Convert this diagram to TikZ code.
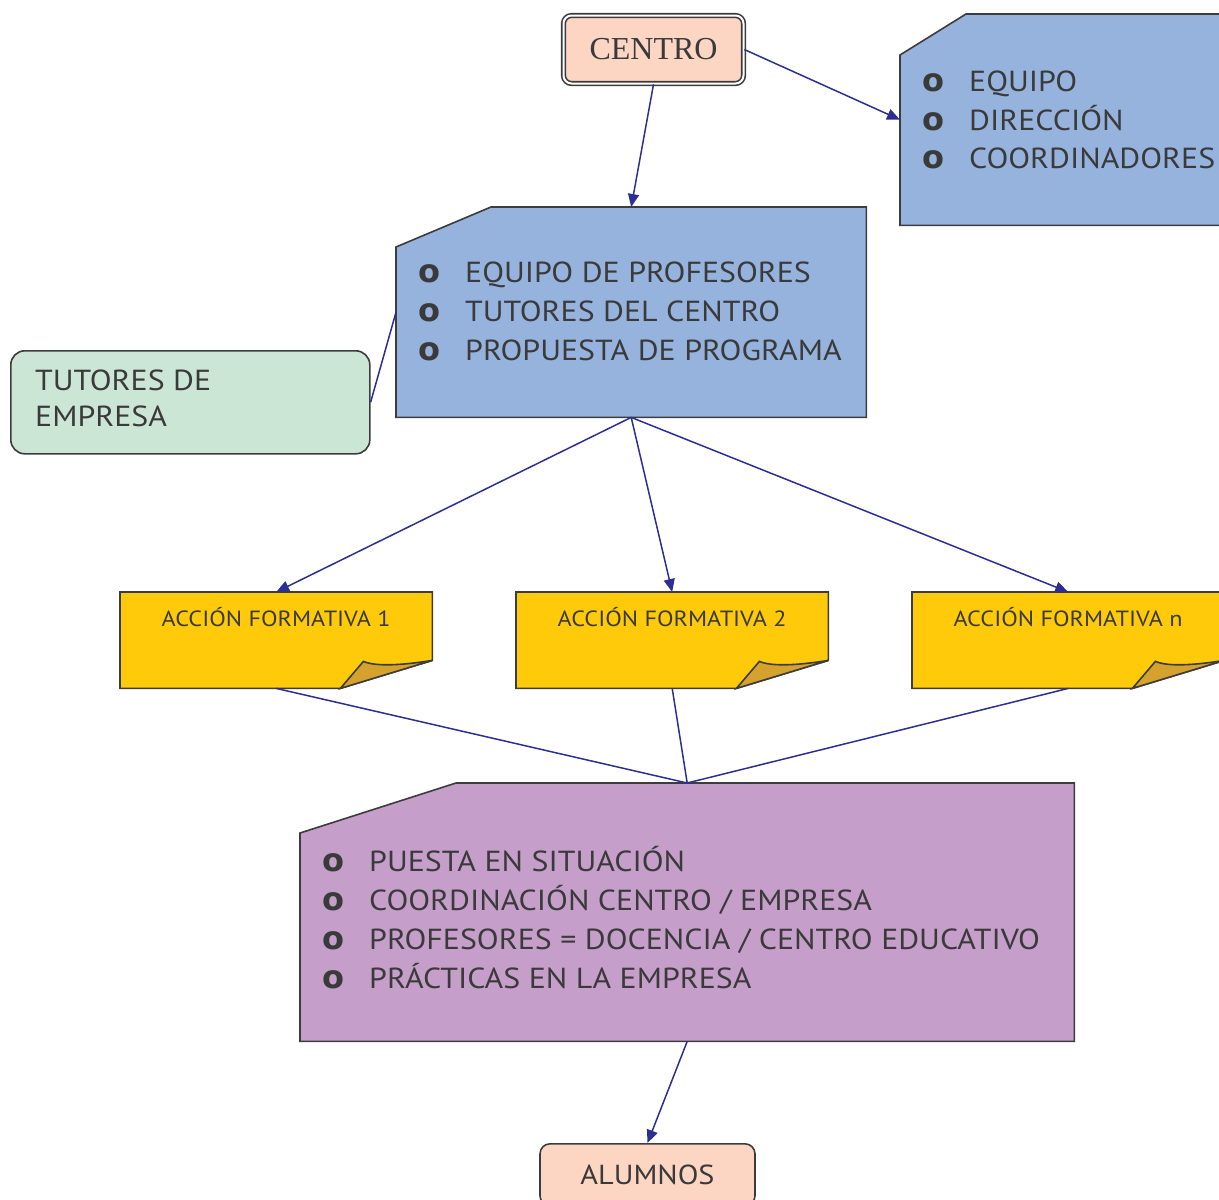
\documentclass[tikz,border=0pt]{standalone}
\usepackage{fontspec}
\setmainfont{PT Sans}[FakeStretch=1.1]
\newfontfamily\centrofont{Liberation Serif}
\newfontfamily\balafont{DejaVu Sans}
\usetikzlibrary{positioning, arrows.meta}

\definecolor{salmon}{HTML}{FCD5C3}
\definecolor{azul}{HTML}{95B3DD}
\definecolor{verde}{HTML}{CCE6D5}
\definecolor{amarillo}{HTML}{FFCA0A}
\definecolor{dorado}{HTML}{D5A22E}
\definecolor{malva}{HTML}{C59FCA}
\definecolor{borde}{HTML}{3C3C3C}
\definecolor{texto}{HTML}{3A3A3A}
\definecolor{azulosc}{HTML}{2B2F91}

\newcommand{\bala}{\makebox[47pt][l]{\balafont\bfseries\fontsize{32}{32}\selectfont o}}

\begin{document}
\begin{tikzpicture}[x=1pt,y=-1pt,
    every node/.style={inner sep=0pt, text=texto},
    contorno/.style={draw=borde, line width=1.6pt},
    lista/.style={align=left, anchor=north west, font=\fontsize{29}{39}\selectfont},
    nota/.style={anchor=north west, minimum width=312, minimum height=96},
    rotulo/.style={anchor=base, font=\fontsize{22}{24}\selectfont},
    conector/.style={draw=azulosc, line width=1.5pt},
    flecha/.style={conector, -{Triangle[length=13pt,width=11pt]}}]

  \useasboundingbox (0,0) rectangle (1219,1200);

  % cajas
  \node[contorno, double=white, double distance=2pt, rounded corners=8pt, fill=salmon,
        minimum width=180, minimum height=68, font=\centrofont\fontsize{32}{32}\selectfont] (centro) at (653.5,49.5) {CENTRO};
  \node[anchor=north west, minimum width=330, minimum height=211] (dir) at (900,14) {};
  \node[anchor=north west, minimum width=470, minimum height=210] (prof) at (396,207) {};
  \node[contorno, rounded corners=14pt, fill=verde, anchor=north west,
        minimum width=359, minimum height=103] (tutemp) at (10,350) {};
  \node[nota] (af1) at (120,592) {};
  \node[nota] (af2) at (516,592) {};
  \node[nota] (afn) at (912,592) {};
  \node[anchor=north west, minimum width=774, minimum height=258] (prac) at (300,783) {};
  \node[contorno, rounded corners=10pt, fill=salmon, anchor=north, minimum width=215, minimum height=62,
        font=\fontsize{27.5}{27.5}\selectfont] (alumnos) at (647.5,1143) {ALUMNOS};

  % recortes de esquina
  \filldraw[contorno, fill=azul] (dir.south west) -- ([yshift=-41]dir.north west) -- ([xshift=66]dir.north west)
    -- (dir.north east) -- (dir.south east) -- cycle;
  \filldraw[contorno, fill=azul] (prof.south west) -- ([yshift=-40]prof.north west) -- ([xshift=95]prof.north west)
    -- (prof.north east) -- (prof.south east) -- cycle;
  \filldraw[contorno, fill=malva] (prac.south west) -- ([yshift=-50]prac.north west) -- ([xshift=156]prac.north west)
    -- (prac.north east) -- (prac.south east) -- cycle;

  \foreach \n in {af1,af2,afn} {
    \filldraw[contorno, fill=amarillo] (\n.north west) -- (\n.north east) -- ([yshift=28]\n.south east)
      -- ([xshift=-92]\n.south east) -- (\n.south west) -- cycle;
    \filldraw[contorno, fill=dorado] ([xshift=-92]\n.south east) -- ([xshift=-69,yshift=27]\n.south east)
      .. controls ([xshift=-55,yshift=21]\n.south east) and ([xshift=-25,yshift=24]\n.south east) .. ([yshift=28]\n.south east) -- cycle;
  }

  % textos
  \node[lista, font=\fontsize{29}{38.5}\selectfont, below right=57pt and 22pt of dir.north west] (ldir)
    {\bala EQUIPO\\ \bala DIRECCIÓN\\ \bala COORDINADORES};
  \node[lista, below right=55pt and 22pt of prof.north west] (lprof)
    {\bala EQUIPO DE PROFESORES\\ \bala TUTORES DEL CENTRO\\ \bala PROPUESTA DE PROGRAMA};
  \node[lista, font=\fontsize{29}{36}\selectfont, below right=20pt and 25pt of tutemp.north west] (ltut)
    {TUTORES DE\\EMPRESA};
  \node[lista, below right=63pt and 22pt of prac.north west] (lprac)
    {\bala PUESTA EN SITUACIÓN\\ \bala COORDINACIÓN CENTRO / EMPRESA\\
     \bala PROFESORES = DOCENCIA / CENTRO EDUCATIVO\\ \bala PRÁCTICAS EN LA EMPRESA};
  \node[rotulo] (t1) at ([yshift=-34]af1.north) {ACCIÓN FORMATIVA 1};
  \node[rotulo] (t2) at ([yshift=-34]af2.north) {ACCIÓN FORMATIVA 2};
  \node[rotulo] (tn) at ([yshift=-34]afn.north) {ACCIÓN FORMATIVA n};

  % conectores
  \draw[flecha] (centro.south) -- (prof.north);
  \draw[flecha] (centro.east) -- (dir.west);
  \draw[conector] (tutemp.east) -- (prof.west);
  \draw[flecha] (prof.south) -- (af1.north);
  \draw[flecha] (prof.south) -- (af2.north);
  \draw[flecha] (prof.south) -- (afn.north);
  \draw[conector] (af1.south) -- (prac.north);
  \draw[conector] (af2.south) -- (prac.north);
  \draw[conector] (afn.south) -- (prac.north);
  \draw[flecha] (prac.south) -- (alumnos.north);
\end{tikzpicture}
\end{document}
